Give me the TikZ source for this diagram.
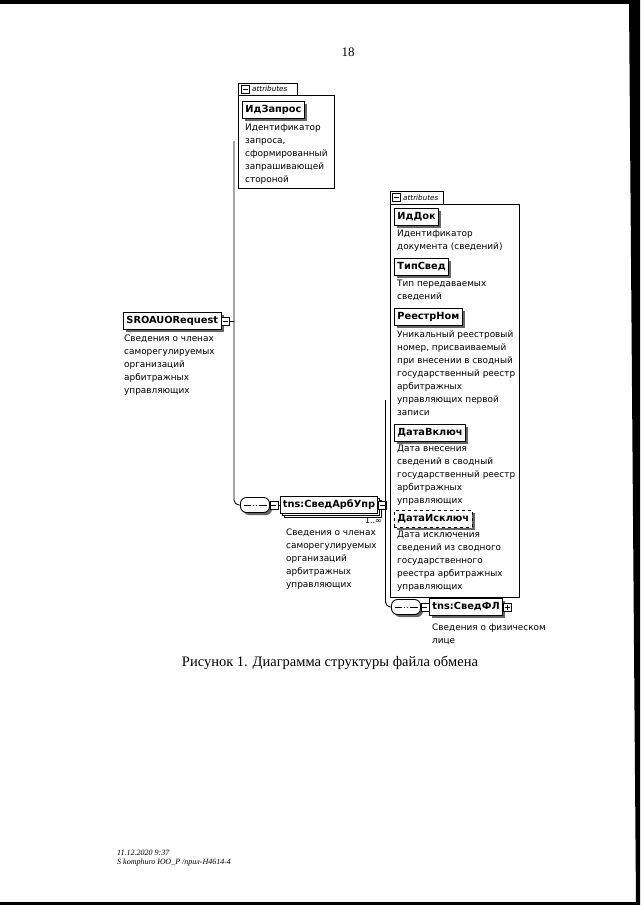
\documentclass[tikz,border=0pt]{standalone}
\usepackage{fontspec}
\setmainfont{Liberation Serif}
\newfontfamily\dg{DejaVu Sans}
\usetikzlibrary{shadows}
\tikzset{
  shd/.style={drop shadow={shadow xshift=2.5pt,shadow yshift=-2.5pt,fill=black!60,opacity=1}},
  elem/.style={draw,line width=0.9pt,fill=white,font=\dg\bfseries\fontsize{9.8}{11}\selectfont,inner xsep=3pt,inner ysep=0pt,minimum height=17pt,anchor=west,shd},
  desc/.style={anchor=north west,inner sep=0pt,align=left,font=\dg\fontsize{8.9}{13}\selectfont},
  minbox/.style={draw,line width=0.8pt,fill=white,minimum size=8pt,inner sep=0pt,
    path picture={\draw[line width=0.8pt] ([xshift=1.5pt]path picture bounding box.west) -- ([xshift=-1.5pt]path picture bounding box.east);}},
  plusbox/.style={draw,line width=0.8pt,fill=white,minimum size=8pt,inner sep=0pt,
    path picture={\draw[line width=0.8pt] ([xshift=1.5pt]path picture bounding box.west) -- ([xshift=-1.5pt]path picture bounding box.east);
                  \draw[line width=0.8pt] ([yshift=1.5pt]path picture bounding box.south) -- ([yshift=-1.5pt]path picture bounding box.north);}},
  seqbox/.style={draw,line width=0.9pt,fill=white,rounded corners=6pt,minimum width=29pt,minimum height=15pt,inner sep=0pt,shd,
    path picture={\draw[line width=0.9pt] ([xshift=3pt]path picture bounding box.west) -- ([xshift=-3pt]path picture bounding box.east);
      \foreach \d in {-3,0,3} \fill ([xshift=\d pt]path picture bounding box.center) circle (1.3pt);}},
  attrtab/.style={font=\dg\itshape\fontsize{7.2}{8}\selectfont,anchor=west,inner sep=0pt},
  conn/.style={line width=0.9pt},
}
\begin{document}
\begin{tikzpicture}[x=1pt,y=-1pt]
\path[use as bounding box,fill=white] (0,0) rectangle (640,905);
% scan borders
\fill[black] (629,0) -- (640,0) -- (640,905) -- (636,905) -- cycle;
\fill[black] (0,0) rectangle (640,3.5);
\fill[black] (0,901.5) rectangle (640,905);

\node[font=\fontsize{13}{15}\selectfont] (pg) at (348,52) {18};

% ---------- attributes box 1
\draw[conn] (238,95) -- (238,83) -- (297,83) -- (297,95);
\draw[conn] (238,95) rectangle (334,188);
\node[minbox] (t1i) at (245,89) {};
\node[attrtab] (t1) at (252,89) {attributes};
\node[elem] (idz) at (242,110) {ИдЗапрос};
\node[desc] (idzd) at (245,124) {Идентификатор\\запроса,\\сформированный\\запрашивающей\\стороной};

% ---------- root
\node[elem] (root) at (123,321) {SROAUORequest};
\node[minbox] (rooti) at ([xshift=4pt]root.east) {};
\node[desc] (rootd) at (124,335) {Сведения о членах\\саморегулируемых\\организаций\\арбитражных\\управляющих};
\coordinate (v1t) at (234,141);
\coordinate (v1m) at (234,321);
\draw[conn] (rooti.east) -- (v1m);

% ---------- sequence 1
\node[seqbox] (s1) at (255,505) {};
\node[minbox] (s1i) at ([xshift=4pt]s1.east) {};
\draw[conn,rounded corners=5pt] (v1t) -- (234,505) -- (s1.west);
\node[elem,inner xsep=2.5pt,double copy shadow={shadow xshift=2pt,shadow yshift=-2pt,fill=white,draw=black,line width=0.8pt}] (arb) at (280,505) {tns:СведАрбУпр};
\node[minbox] (arbi) at ([xshift=4pt]arb.east) {};
\draw[conn] (s1i.east) -- (arb.west);
\node[font=\dg\fontsize{8}{9}\selectfont,anchor=north east,inner sep=0pt] (card) at ([yshift=-4pt,xshift=4pt]arb.south east) {1..∞};
\node[desc] (arbd) at (286,529) {Сведения о членах\\саморегулируемых\\организаций\\арбитражных\\управляющих};

% ---------- attributes box 2
\draw[conn] (390,204) -- (390,191) -- (443,191) -- (443,204);
\draw[conn] (390,204) rectangle (519,597);
\node[minbox] (t2i) at (396.5,197.5) {};
\node[attrtab] (t2) at (403,197.5) {attributes};

\node[elem] (iddok) at (394,217) {ИдДок};
\node[desc] (iddokd) at (397,230) {Идентификатор\\документа (сведений)};
\node[elem] (tip) at (394,267) {ТипСвед};
\node[desc] (tipd) at (397,280) {Тип передаваемых\\сведений};
\node[elem] (reestr) at (394,317) {РеестрНом};
\node[desc] (reestrd) at (397,331) {Уникальный реестровый\\номер, присваиваемый\\при внесении в сводный\\государственный реестр\\арбитражных\\управляющих первой\\записи};
\node[elem] (dvkl) at (394,433) {ДатаВключ};
\node[desc] (dvkld) at (397,445) {Дата внесения\\сведений в сводный\\государственный реестр\\арбитражных\\управляющих};
\node[elem,dashed] (disk) at (394,519) {ДатаИсключ};
\node[desc] (diskd) at (397,531) {Дата исключения\\сведений из сводного\\государственного\\реестра арбитражных\\управляющих};

\coordinate (v2t) at (385.5,400);
\draw[conn] (arbi.east) -- (385.5,505);

% ---------- sequence 2
\node[seqbox] (s2) at (406,607) {};
\node[minbox] (s2i) at ([xshift=4pt]s2.east) {};
\draw[conn,rounded corners=5pt] (v2t) -- (385.5,607) -- (s2.west);
\node[elem] (fl) at (429,607) {tns:СведФЛ};
\node[plusbox] (fli) at ([xshift=4pt]fl.east) {};
\draw[conn] (s2i.east) -- (fl.west);
\node[desc] (fld) at (432,624) {Сведения о физическом\\лице};

% ---------- caption and footer
\node[font=\fontsize{14.5}{17}\selectfont] (cap) at (330,663) {Рисунок 1. Диаграмма структуры файла обмена};
\node[anchor=west,inner sep=0pt,font=\itshape\fontsize{8}{9}\selectfont] (f1) at (117,853) {11.12.2020 9:37};
\node[anchor=west,inner sep=0pt,font=\itshape\fontsize{8}{9}\selectfont] (f2) at (117,863) {S komphuro ЮО\_Р /прил-Н4614-4};
\end{tikzpicture}
\end{document}
